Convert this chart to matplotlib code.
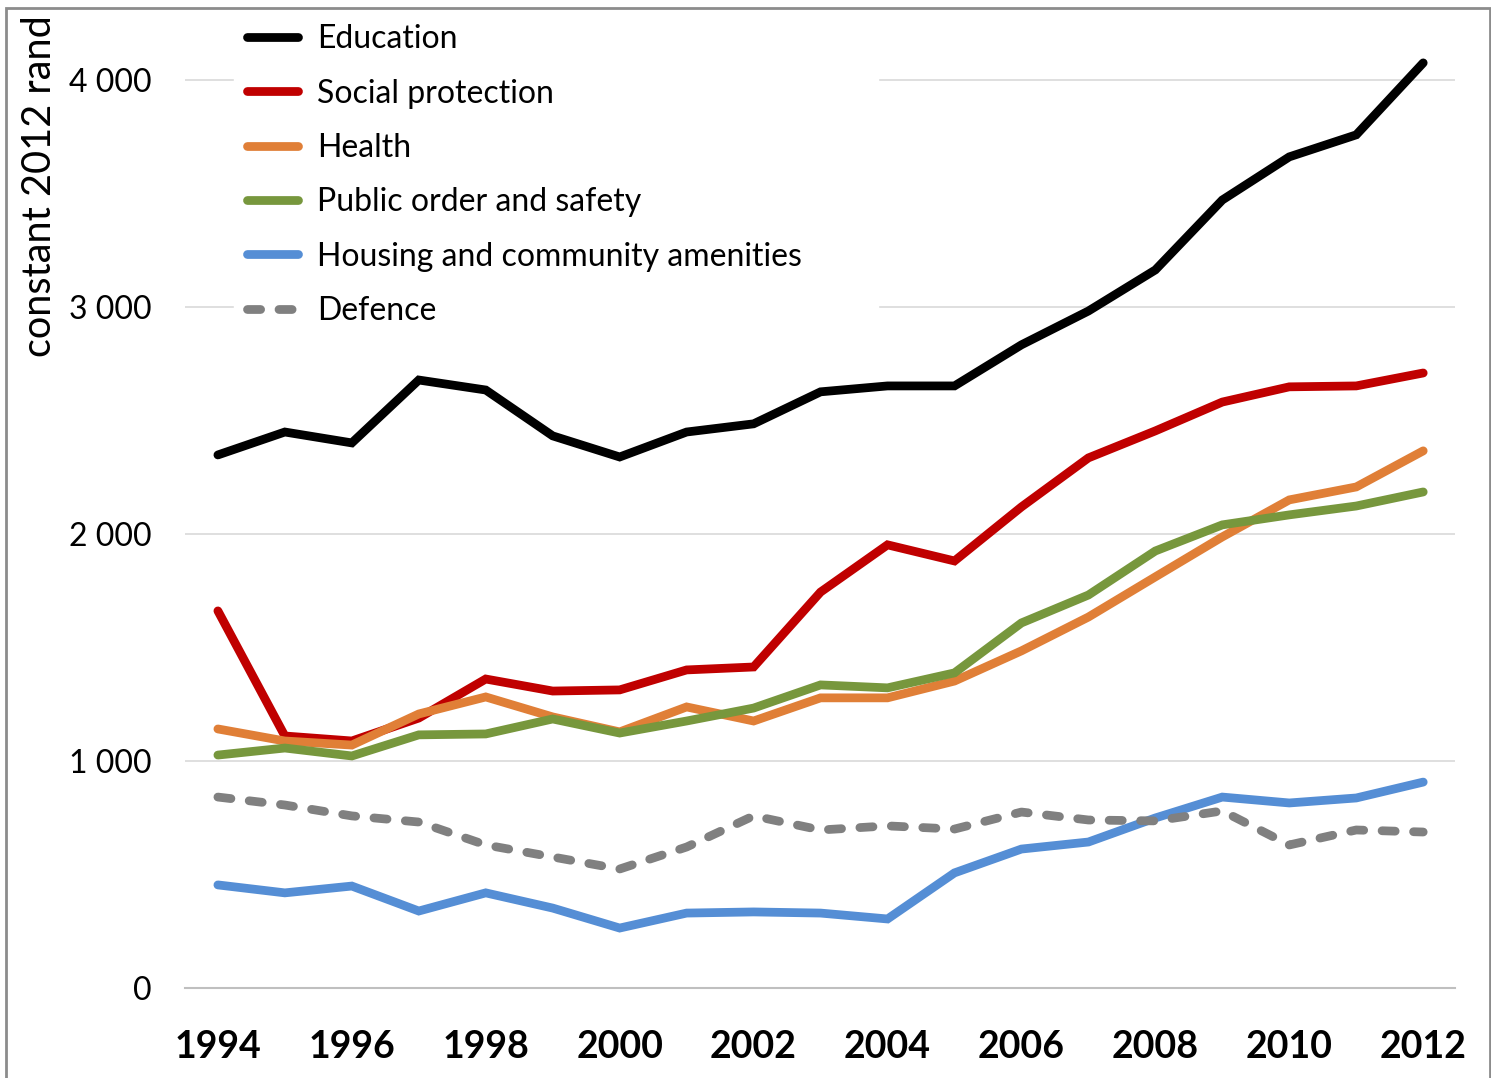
import matplotlib
matplotlib.use("Agg")
import matplotlib.pyplot as plt
from matplotlib.patches import Rectangle
from matplotlib.ticker import FuncFormatter

plt.rcParams['font.family'] = ['Lato', 'DejaVu Sans']

years = list(range(1994, 2013))

education = [2348, 2449, 2401, 2678, 2634, 2432, 2339, 2449, 2485, 2626,
             2652, 2652, 2833, 2982, 3163, 3471, 3661, 3758, 4075]
social_protection = [1661, 1110, 1088, 1189, 1361, 1308, 1313, 1401, 1414, 1744,
                     1952, 1881, 2119, 2335, 2454, 2581, 2648, 2652, 2709]
health = [1141, 1088, 1070, 1207, 1282, 1194, 1128, 1238, 1176, 1278,
          1278, 1352, 1485, 1634, 1811, 1987, 2150, 2207, 2366]
public_order = [1026, 1057, 1022, 1115, 1119, 1185, 1123, 1176, 1233, 1335,
                1322, 1388, 1608, 1731, 1925, 2040, 2084, 2123, 2185]
housing = [454, 419, 449, 339, 419, 352, 264, 330, 335, 330,
           304, 507, 612, 643, 749, 841, 815, 837, 907]
defence = [841, 806, 758, 731, 630, 577, 524, 621, 758, 696,
           714, 700, 775, 740, 736, 780, 630, 696, 687]

series = [
    ("Education", education, "#000000", "-"),
    ("Social protection", social_protection, "#c00000", "-"),
    ("Health", health, "#e07f37", "-"),
    ("Public order and safety", public_order, "#77973d", "-"),
    ("Housing and community amenities", housing, "#558ed5", "-"),
    ("Defence", defence, "#808080", "--"),
]

fig = plt.figure(figsize=(14.91, 10.78), dpi=100)
ax = fig.add_axes([0.124, 0.0835, 0.852, 0.8845])

for name, vals, color, ls in series:
    line, = ax.plot(years, vals, color=color, linewidth=6.3, linestyle=ls,
                    label=name, solid_capstyle='round', dash_capstyle='round',
                    solid_joinstyle='miter')
    if ls == "--":
        line.set_dashes((1.5, 2.1))

ax.set_xlim(1993.507, 2012.478)
ax.set_ylim(0, 4200)
ax.set_yticks([0, 1000, 2000, 3000, 4000])
ax.set_xticks(years[::2])
ax.yaxis.set_major_formatter(FuncFormatter(lambda v, p: f"{int(v):,}".replace(",", " ")))
ax.grid(axis='y', color='#d9d9d9', linewidth=1.2)
ax.set_axisbelow(True)
for s in ['top', 'right', 'left']:
    ax.spines[s].set_visible(False)
ax.spines['bottom'].set_color('#bfbfbf')
ax.spines['bottom'].set_linewidth(1.5)
ax.tick_params(axis='both', length=0)
ax.tick_params(axis='y', labelsize=23, pad=24)
ax.tick_params(axis='x', labelsize=27, pad=30)
for t in ax.get_xticklabels():
    t.set_fontweight('bold')

leg = ax.legend(loc='upper left', bbox_to_anchor=(0.039, 1.024, 0.507, 0.0),
                mode='expand', frameon=True, fontsize=23, handlelength=1.6,
                handletextpad=0.59, labelspacing=0.76, borderaxespad=0)
leg.get_frame().set_facecolor('white')
leg.get_frame().set_edgecolor('white')
leg.get_frame().set_alpha(1)

fig.text(40 / 1491, 1 - 15 / 1078, "constant 2012 rand", rotation=90,
         ha='center', va='top', fontsize=28.5)

fig.patches.append(Rectangle((6 / 1491, -0.01), (1484) / 1491, 1 - 8 / 1078 + 0.01,
                             transform=fig.transFigure, fill=False,
                             edgecolor='#8c8c8c', linewidth=2))

fig.savefig("out.png", dpi=100)
